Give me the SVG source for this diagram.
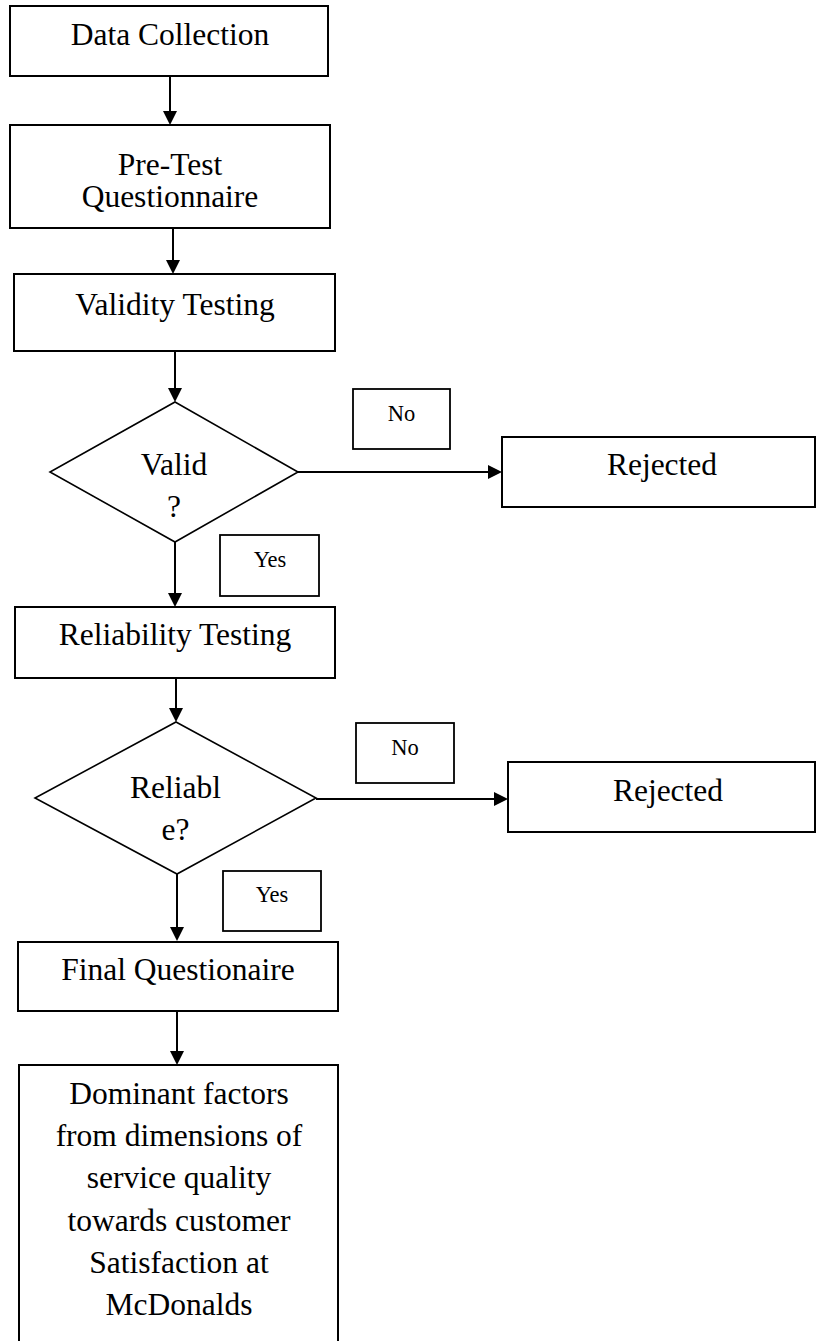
<svg xmlns="http://www.w3.org/2000/svg" width="817" height="1341" viewBox="0 0 817 1341">
<style>
.box{fill:#fff;stroke:#000;stroke-width:2}
.dia{fill:#fff;stroke:#000;stroke-width:1.6}
.lbl{fill:#fff;stroke:#000;stroke-width:1.8}
.t{font-family:"Liberation Serif","Times New Roman",serif;font-size:31.5px;fill:#000;text-anchor:middle}
.s{font-family:"Liberation Serif","Times New Roman",serif;font-size:22.5px;fill:#000;text-anchor:middle}
.c{fill:none;stroke:#000;stroke-width:2}
</style>
<defs>
<marker id="ah" markerUnits="userSpaceOnUse" markerWidth="14" markerHeight="14" refX="4" refY="7" orient="auto">
<path d="M0,0 L14,7 L0,14 z" fill="#000"/>
</marker>
</defs>
<rect width="817" height="1341" fill="#fff"/>
<g id="connectors">
<path class="c" d="M170,76 V115" marker-end="url(#ah)"/>
<path class="c" d="M173,228 V264" marker-end="url(#ah)"/>
<path class="c" d="M175,351 V392" marker-end="url(#ah)"/>
<path class="c" d="M298,472 H492" marker-end="url(#ah)"/>
<path class="c" d="M175,542 V597" marker-end="url(#ah)"/>
<path class="c" d="M176,678 V712" marker-end="url(#ah)"/>
<path class="c" d="M316,799 H498" marker-end="url(#ah)"/>
<path class="c" d="M177,874 V931" marker-end="url(#ah)"/>
<path class="c" d="M177,1007 V1055" marker-end="url(#ah)"/>
</g>
<g id="n_data">
<rect class="box" x="10" y="6" width="318" height="70"/>
<text class="t" x="170" y="45">Data Collection</text>
</g>
<g id="n_pretest">
<rect class="box" x="10" y="125" width="320" height="103"/>
<text class="t" x="170" y="175">Pre-Test</text>
<text class="t" x="170" y="207">Questionnaire</text>
</g>
<g id="n_validity">
<rect class="box" x="14" y="274" width="321" height="77"/>
<text class="t" x="175" y="315">Validity Testing</text>
</g>
<g id="n_valid">
<polygon class="dia" points="175,402 298,472 175,542 50,472"/>
<text class="t" x="174" y="475">Valid</text>
<text class="t" x="174" y="517">?</text>
</g>
<g id="l_no1">
<rect class="lbl" x="353" y="389" width="97" height="60"/>
<text class="s" x="401.5" y="421">No</text>
</g>
<g id="n_rej1">
<rect class="box" x="502" y="437" width="313" height="70"/>
<text class="t" x="662" y="475">Rejected</text>
</g>
<g id="l_yes1">
<rect class="lbl" x="220" y="535" width="99" height="61"/>
<text class="s" x="270" y="567">Yes</text>
</g>
<g id="n_reliability">
<rect class="box" x="15" y="607" width="320" height="71"/>
<text class="t" x="175" y="645">Reliability Testing</text>
</g>
<g id="n_reliable">
<polygon class="dia" points="176,722 316,798 177,874 35,798"/>
<text class="t" x="175.5" y="798">Reliabl</text>
<text class="t" x="175.5" y="840">e?</text>
</g>
<g id="l_no2">
<rect class="lbl" x="356" y="723" width="98" height="60"/>
<text class="s" x="405" y="755">No</text>
</g>
<g id="n_rej2">
<rect class="box" x="508" y="762" width="307" height="70"/>
<text class="t" x="668" y="801">Rejected</text>
</g>
<g id="l_yes2">
<rect class="lbl" x="223" y="871" width="98" height="60"/>
<text class="s" x="272" y="902">Yes</text>
</g>
<g id="n_final">
<rect class="box" x="18" y="942" width="320" height="69"/>
<text class="t" x="178" y="980">Final Questionaire</text>
</g>
<g id="n_dominant">
<rect class="box" x="19" y="1065" width="319" height="290"/>
<text class="t" x="179" y="1104">Dominant factors</text>
<text class="t" x="179" y="1146">from dimensions of</text>
<text class="t" x="179" y="1188">service quality</text>
<text class="t" x="179" y="1231">towards customer</text>
<text class="t" x="179" y="1273">Satisfaction at</text>
<text class="t" x="179" y="1315">McDonalds</text>
</g>
</svg>
